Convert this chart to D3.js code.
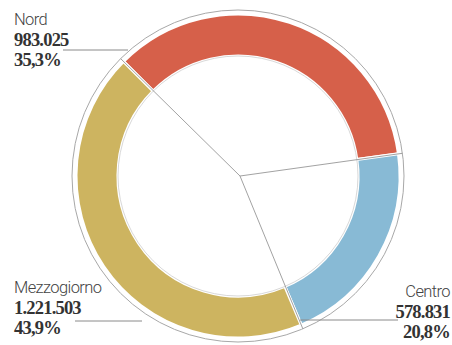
<!DOCTYPE html>
<html><head><meta charset="utf-8">
<script src="https://cdn.jsdelivr.net/npm/d3@7"></script>
<style>body{margin:0;background:#fff}svg{display:block}</style>
</head><body>
<script>
const categories = ["Nord", "Centro", "Mezzogiorno"];
const values = [983025, 578831, 1221503];
const valueLabels = ["983.025", "578.831", "1.221.503"];
const pctLabels = ["35,3%", "20,8%", "43,9%"];
const colors = ["#d6604a", "#88bad5", "#cdb460"];

const W = 452, H = 345, cx = 238, cy = 176;
const rOuter = 162, rInner = 120, rFrame = 166;
const svg = d3.select("body").append("svg").attr("width", W).attr("height", H);
const g = svg.append("g").attr("transform", `translate(${cx},${cy})`);

const pie = d3.pie().sort(null).value(d => d).startAngle(-45 * Math.PI / 180).endAngle(315 * Math.PI / 180);
const arcs = pie(values);
const arc = d3.arc().innerRadius(rInner).outerRadius(rOuter);

g.append("circle").attr("r", rFrame).attr("fill", "none").attr("stroke", "#a8a8a8").attr("stroke-width", 1);
g.selectAll("path.seg").data(arcs).join("path").attr("class", "seg")
  .attr("d", arc).attr("fill", (d, i) => colors[i]).attr("stroke", "#fff").attr("stroke-width", 3);
g.append("circle").attr("r", rInner).attr("fill", "none").attr("stroke", "#bdbdbd").attr("stroke-width", 0.6);
g.selectAll("line.spoke").data(arcs).join("line").attr("class", "spoke")
  .attr("x1", 2).attr("y1", 0)
  .attr("x2", d => rFrame * Math.sin(d.startAngle))
  .attr("y2", d => -rFrame * Math.cos(d.startAngle))
  .attr("stroke", "#8a8a8a").attr("stroke-width", 0.8);

// leader lines
const leaders = [[63, 50, 128, 50], [300, 320, 398, 320], [75, 321, 142, 321]];
svg.selectAll("line.lead").data(leaders).join("line").attr("class", "lead")
  .attr("x1", d => d[0]).attr("y1", d => d[1]).attr("x2", d => d[2]).attr("y2", d => d[3])
  .attr("stroke", "#8a8a8a").attr("stroke-width", 1);

const labelPos = [{x: 14, y: 25, a: "start"}, {x: 450, y: 297, a: "end"}, {x: 14, y: 293, a: "start"}];
categories.forEach((c, i) => {
  const p = labelPos[i];
  const t = svg.append("g");
  t.append("text").attr("x", p.x).attr("y", p.y).attr("text-anchor", p.a)
    .attr("font-family", "Roboto, 'Liberation Sans Narrow', sans-serif").attr("font-size", 16.5)
    .attr("font-weight", 300)
    .attr("fill", "#444").attr("letter-spacing", -0.6).text(c);
  t.append("text").attr("x", p.x).attr("y", p.y + 21).attr("text-anchor", p.a)
    .attr("font-family", "'Liberation Serif', serif").attr("font-size", 18.5).attr("font-weight", "bold")
    .attr("fill", "#333").attr("letter-spacing", -0.8).text(valueLabels[i]);
  t.append("text").attr("x", p.x).attr("y", p.y + 41).attr("text-anchor", p.a)
    .attr("font-family", "'Liberation Serif', serif").attr("font-size", 18.5).attr("font-weight", "bold")
    .attr("fill", "#333").attr("letter-spacing", -0.8).text(pctLabels[i]);
});
</script>
</body></html>
